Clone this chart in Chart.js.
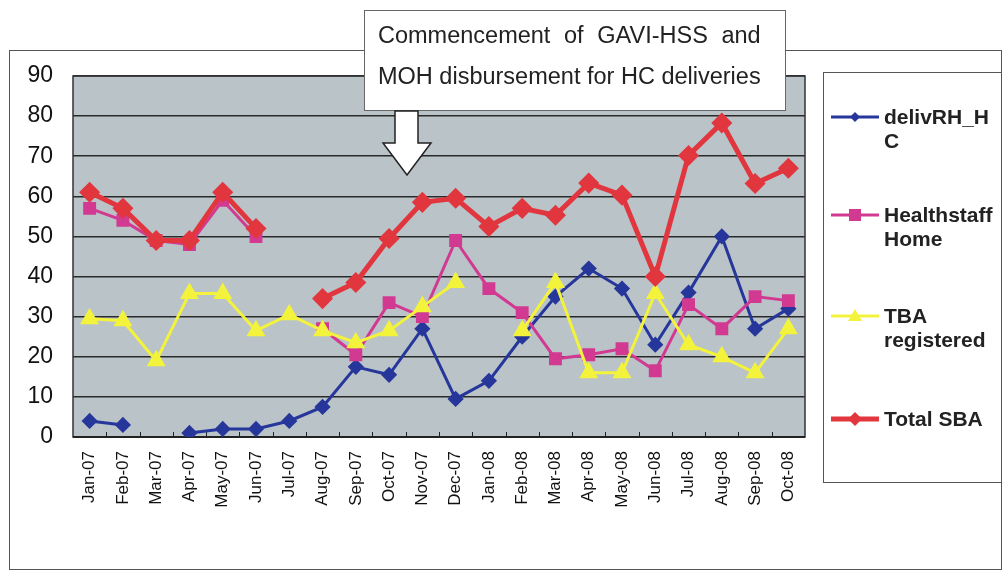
<!DOCTYPE html>
<html>
<head>
<meta charset="utf-8">
<script src="https://cdn.jsdelivr.net/npm/chart.js@4"></script>
<style>
  html, body { margin: 0; padding: 0; background: #fff; }
  #wrap { width: 1003px; height: 572px; }
</style>
</head>
<body>
<div id="wrap"><canvas id="myChart" width="1003" height="572"></canvas></div>
<script>
const months = ['Jan-07', 'Feb-07', 'Mar-07', 'Apr-07', 'May-07', 'Jun-07', 'Jul-07', 'Aug-07',
  'Sep-07', 'Oct-07', 'Nov-07', 'Dec-07', 'Jan-08', 'Feb-08', 'Mar-08', 'Apr-08', 'May-08',
  'Jun-08', 'Jul-08', 'Aug-08', 'Sep-08', 'Oct-08'];

const delivRH = [4, 3, null, 1, 2, 2, 4, 7.5, 17.5, 15.5, 27, 9.5, 14, 25, 35, 42, 37, 23, 36, 50, 27, 32];
const healthstaffHome = [57, 54, 49, 48, 59, 50, null, 27, 20.5, 33.5, 30, 49, 37, 31, 19.5, 20.5, 22, 16.5, 33, 27, 35, 34];
const tbaRegistered = [29.5, 29, 19, 35.8, 35.8, 26.5, 30.5, 26.5, 23.5, 26.5, 32.5, 38.5, null, 26.5, 38.5, 16, 16, 35.8, 23, 20, 16, 27];
const totalSBA = [61, 57, 49, 49, 61, 52, null, 34.5, 38.5, 49.5, 58.5, 59.5, 52.5, 57, 55.3, 63.3, 60.3, 40, 70.2, 78.3, 63.2, 67];

const yTicks = [0, 10, 20, 30, 40, 50, 60, 70, 80, 90];

const COLORS = {
  blue: '#26369a',
  pink: '#d23a92',
  yellow: '#f3f33c',
  red: '#e2363f'
};

const FONT = '"Liberation Sans", Arial, sans-serif';

const legendItems = [
  {lines: ['delivRH_H', 'C'], color: COLORS.blue, style: 'rectRot', r: 5, lw: 3, y: 117},
  {lines: ['Healthstaff', 'Home'], color: COLORS.pink, style: 'rect', r: 6, lw: 3, y: 215},
  {lines: ['TBA', 'registered'], color: COLORS.yellow, style: 'triangle', r: 7, lw: 3, y: 316},
  {lines: ['Total SBA'], color: COLORS.red, style: 'rectRot', r: 7, lw: 5, y: 419}
];

function drawMarker(ctx, style, x, y, r, color) {
  ctx.fillStyle = color;
  ctx.beginPath();
  if (style === 'rectRot') {
    ctx.moveTo(x, y - r); ctx.lineTo(x + r, y); ctx.lineTo(x, y + r); ctx.lineTo(x - r, y);
  } else if (style === 'rect') {
    ctx.rect(x - r, y - r, 2 * r, 2 * r);
  } else {
    ctx.moveTo(x, y - r); ctx.lineTo(x + r, y + r * 0.7); ctx.lineTo(x - r, y + r * 0.7);
  }
  ctx.closePath();
  ctx.fill();
}

const decorations = {
  id: 'decorations',
  beforeDraw(chart) {
    const {ctx, chartArea: a} = chart;
    ctx.save();
    ctx.fillStyle = '#fff';
    ctx.fillRect(0, 0, chart.width, chart.height);
    // outer frame
    ctx.strokeStyle = '#555';
    ctx.lineWidth = 1;
    ctx.strokeRect(9.5, 50.5, 992, 519);
    // plot background
    ctx.fillStyle = '#b9c3c8';
    ctx.fillRect(a.left, a.top, a.right - a.left, a.bottom - a.top);
    ctx.restore();
  },
  beforeDatasetsDraw(chart) {
    const {ctx, chartArea: a} = chart;
    const x = chart.scales.x;
    ctx.save();
    ctx.strokeStyle = '#333';
    ctx.lineWidth = 1.5;
    ctx.strokeRect(a.left, a.top, a.right - a.left, a.bottom - a.top);
    // small tick marks pointing into the plot
    ctx.lineWidth = 1;
    ctx.strokeStyle = '#222';
    for (let i = 1; i < months.length; i++) {
      const px = Math.round((x.getPixelForValue(i - 1) + x.getPixelForValue(i)) / 2) + 0.5;
      ctx.beginPath();
      ctx.moveTo(px, a.bottom);
      ctx.lineTo(px, a.bottom - 5);
      ctx.stroke();
    }
    ctx.beginPath();
    ctx.lineWidth = 2;
    ctx.moveTo(a.left, a.bottom);
    ctx.lineTo(a.right, a.bottom);
    ctx.stroke();
    ctx.restore();
  },
  afterDraw(chart) {
    const {ctx} = chart;
    ctx.save();

    // annotation box
    ctx.fillStyle = '#fff';
    ctx.fillRect(364, 10, 421, 100);
    ctx.strokeStyle = '#666';
    ctx.lineWidth = 1;
    ctx.strokeRect(364.5, 10.5, 421, 100);

    ctx.fillStyle = '#222';
    ctx.font = '23.5px ' + FONT;
    ctx.textBaseline = 'alphabetic';
    // first line justified to the width of the second
    const line2 = 'MOH disbursement for HC deliveries';
    const words = ['Commencement', 'of', 'GAVI-HSS', 'and'];
    const left = 378, right = left + ctx.measureText(line2).width;
    const total = words.reduce((s, w) => s + ctx.measureText(w).width, 0);
    const gap = (right - left - total) / (words.length - 1);
    let cx = left;
    words.forEach(w => {
      ctx.fillText(w, cx, 43);
      cx += ctx.measureText(w).width + gap;
    });
    ctx.fillText(line2, left, 84);

    // down arrow
    ctx.beginPath();
    ctx.moveTo(395, 111);
    ctx.lineTo(418, 111);
    ctx.lineTo(418, 143);
    ctx.lineTo(431, 143);
    ctx.lineTo(407, 175);
    ctx.lineTo(383, 143);
    ctx.lineTo(395, 143);
    ctx.closePath();
    ctx.fillStyle = '#fff';
    ctx.fill();
    ctx.strokeStyle = '#222';
    ctx.lineWidth = 1.5;
    ctx.stroke();

    // legend box
    ctx.fillStyle = '#fff';
    ctx.fillRect(823, 72, 179, 410);
    ctx.strokeStyle = '#555';
    ctx.lineWidth = 1;
    ctx.strokeRect(823.5, 72.5, 178, 410);

    ctx.font = 'bold 21px ' + FONT;
    ctx.textBaseline = 'middle';
    legendItems.forEach(item => {
      ctx.strokeStyle = item.color;
      ctx.lineWidth = item.lw;
      ctx.beginPath();
      ctx.moveTo(831, item.y);
      ctx.lineTo(879, item.y);
      ctx.stroke();
      drawMarker(ctx, item.style, 855, item.y, item.r, item.color);
      ctx.fillStyle = '#222';
      item.lines.forEach((t, i) => ctx.fillText(t, 884, item.y + 1 + i * 24));
    });
    ctx.restore();
  }
};

const data = {
  labels: months,
  datasets: [
    {
      label: 'delivRH_HC',
      data: delivRH,
      borderColor: COLORS.blue,
      backgroundColor: COLORS.blue,
      borderWidth: 3,
      pointStyle: 'rectRot',
      pointRadius: 6,
      order: 4
    },
    {
      label: 'Healthstaff Home',
      data: healthstaffHome,
      borderColor: COLORS.pink,
      backgroundColor: COLORS.pink,
      borderWidth: 3,
      pointStyle: 'rect',
      pointRadius: 7,
      order: 3
    },
    {
      label: 'TBA registered',
      data: tbaRegistered,
      borderColor: COLORS.yellow,
      backgroundColor: COLORS.yellow,
      borderWidth: 3,
      pointStyle: 'triangle',
      pointRadius: 8,
      order: 2
    },
    {
      label: 'Total SBA',
      data: totalSBA,
      borderColor: COLORS.red,
      backgroundColor: COLORS.red,
      borderWidth: 5,
      pointStyle: 'rectRot',
      pointRadius: 7,
      order: 1
    }
  ]
};

const config = {
  type: 'line',
  data: data,
  options: {
    responsive: false,
    animation: false,
    spanGaps: false,
    layout: {
      padding: {left: 0, top: 76, right: 198, bottom: 0}
    },
    elements: {
      line: {tension: 0},
      point: {borderWidth: 0, hoverRadius: 7}
    },
    plugins: {
      legend: {display: false},
      title: {display: false},
      tooltip: {enabled: false}
    },
    scales: {
      x: {
        offset: true,
        grid: {display: false, offset: true},
        border: {display: false},
        ticks: {
          minRotation: 90,
          maxRotation: 90,
          padding: 6,
          color: '#111',
          font: {family: FONT, size: 17}
        },
        afterFit(scale) { scale.height = 135; }
      },
      y: {
        min: 0,
        max: 90,
        afterBuildTicks(scale) { scale.ticks = yTicks.map(v => ({value: v})); },
        grid: {color: '#2a2a2a', lineWidth: 1.5, drawTicks: false},
        border: {display: false},
        ticks: {
          padding: 20,
          color: '#111',
          font: {family: FONT, size: 23}
        },
        afterFit(scale) { scale.width = 73; }
      }
    }
  },
  plugins: [decorations]
};

const myChart = new Chart(
  document.getElementById('myChart'),
  config
);
</script>
</body>
</html>
